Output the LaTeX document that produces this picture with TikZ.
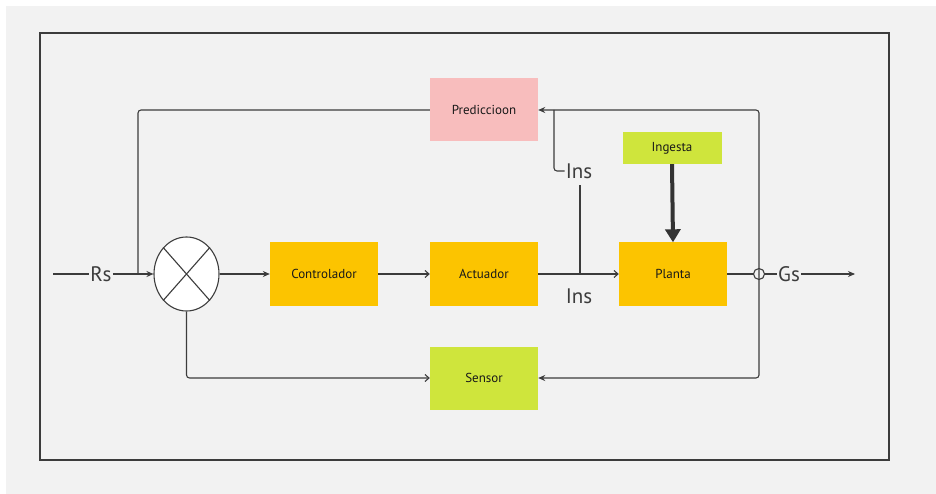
\documentclass[tikz,border=0pt]{standalone}
\usepackage{fontspec}
\setmainfont{PT Sans}
\usetikzlibrary{positioning}
\usetikzlibrary{arrows.meta}
\usetikzlibrary{shapes.geometric}

\definecolor{fondo}{HTML}{F2F2F2}
\definecolor{ambar}{HTML}{FCC400}
\definecolor{rosa}{HTML}{F8BDBD}
\definecolor{lima}{HTML}{CFE53C}
\definecolor{linea}{HTML}{3C3C3C}

\tikzset{
  bloque/.style={rectangle, minimum width=108pt, minimum height=63pt, inner sep=0pt,
    font=\fontsize{13}{15}\selectfont, text=black!90},
  senal/.style={font=\fontsize{21}{24}\selectfont, text=linea, inner sep=1pt},
  cable/.style={draw=linea, line width=1.1pt, rounded corners=3pt},
  llena/.style={-{Stealth[length=7pt,width=6pt]}},
  abierta/.style={-{Straight Barb[length=4pt,width=7pt]}}
}

\begin{document}
\begin{tikzpicture}[x=1pt,y=-1pt]
\useasboundingbox (0,0) rectangle (936,494);
\fill[white] (0,0) rectangle (936,494);
\fill[fondo] (6,6) rectangle (936,494);
\draw[linea, line width=1.6pt] (40,33) rectangle (889,460);

% bloques
\node[bloque, fill=rosa] (pred) at (484,110) {Prediccioon};
\node[bloque, fill=lima, minimum width=99pt, minimum height=32pt] (ing) at (672,148) {Ingesta};
\node[bloque, fill=ambar] (ctrl) at (324,274) {Controlador};
\node[bloque, fill=ambar] (act) at (484,274) {Actuador};
\node[bloque, fill=ambar] (planta) at (673,274) {Planta};
\node[bloque, fill=lima] (sensor) at (484,378) {Sensor};

% sumador
\node[ellipse, draw=linea, line width=1.1pt, fill=white, minimum width=65pt, minimum height=74pt] (suma) at (186.5,274) {};
\draw[linea, line width=1.1pt] (suma.north west) -- (suma.south east);
\draw[linea, line width=1.1pt] (suma.north east) -- (suma.south west);

% etiquetas de senal
\node[senal] (rs) at (101,274) {Rs};
\node[senal] (gs) at (789,274) {Gs};
\node[senal] (ins1) at (579,296) {Ins};
\node[senal] (ins2) at (579,171) {Ins};
\node[circle, draw=linea, line width=1.1pt, minimum size=11pt, inner sep=0pt] (punto) at (759,274) {};

\coordinate (entrada) at (53,274);
\coordinate (salida) at (855,274);
\coordinate (junta) at (138,274);
\coordinate (deriva) at (580,274);
\coordinate (tope) at (580,185);
\coordinate (codo) at (554,110);

% conexiones
\draw[cable] (entrada) -- (rs.west);
\draw[cable, llena] (rs.east) -- (suma.west);
\draw[cable] (pred.west) -| (junta);
\draw[cable, llena] (suma.east) -- (ctrl.west);
\draw[cable, abierta] (ctrl) -- (act);
\draw[cable, abierta] (act) -- (planta);
\draw[cable] (deriva) -- (tope);
\draw[cable] (ins2.west) -| (codo);
\draw[cable] (planta.east) -- (punto.west);
\draw[cable] (punto.east) -- (gs.west);
\draw[cable, llena] (gs.east) -- (salida);
\draw[cable, llena] (punto.center) |- (pred.east);
\draw[cable, llena] (punto.center) |- (sensor.east);
\draw[cable, abierta] (suma.south) |- (sensor.west);
\draw[linea!85!black, line width=4pt, -{Triangle[length=13pt,width=15pt]}] (ing.south) -- (planta.north);

\end{tikzpicture}
\end{document}
